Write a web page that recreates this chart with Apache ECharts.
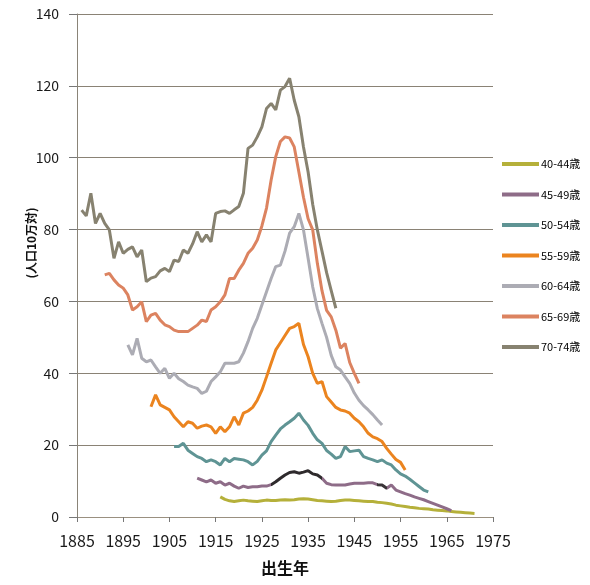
<!DOCTYPE html>
<html>
<head>
<meta charset="utf-8">
<script src="https://cdn.jsdelivr.net/npm/echarts@6/dist/echarts.min.js"></script>
<style>
  html, body { margin: 0; padding: 0; background: #fff; }
  #chart { width: 590px; height: 585px; }
</style>
</head>
<body>
<div id="chart"></div>
<script>
// 出生年ごとの人口10万対の値（各年齢階級）
const firstYear = 1885, lastYear = 1975
const seriesNames = ['40-44歳', '45-49歳', '50-54歳', '55-59歳', '60-64歳', '65-69歳', '70-74歳']
const startYears = [1916, 1911, 1906, 1901, 1896, 1891, 1886]

const age40 = [5.6, 4.9, 4.5, 4.3, 4.5, 4.7, 4.5, 4.4, 4.3, 4.5, 4.7, 4.6, 4.6, 4.7, 4.8, 4.7, 4.8, 5.0, 5.1, 5.0,
  4.8, 4.6, 4.5, 4.4, 4.3, 4.4, 4.6, 4.7, 4.7, 4.6, 4.5, 4.4, 4.3, 4.3, 4.1, 4.0, 3.8, 3.6, 3.3, 3.1,
  2.9, 2.7, 2.6, 2.4, 2.3, 2.2, 2.0, 1.9, 1.8, 1.7, 1.5, 1.4, 1.3, 1.2, 1.1, 1.0]
const age45 = [10.8, 10.3, 9.8, 10.3, 9.4, 9.8, 8.9, 9.4, 8.6, 8.0, 8.6, 8.2, 8.4, 8.4, 8.6, 8.6, 9.0, 9.8, 10.8, 11.7,
  12.4, 12.6, 12.2, 12.5, 12.9, 12.0, 11.7, 10.8, 9.4, 9.0, 8.9, 8.9, 8.9, 9.2, 9.4, 9.4, 9.4, 9.5, 9.5, 9.0,
  8.9, 8.0, 8.9, 7.5, 7.0, 6.5, 6.1, 5.6, 5.2, 4.8, 4.3, 3.8, 3.3, 2.8, 2.3, 1.8]
const age50 = [19.6, 19.6, 20.5, 18.6, 17.7, 16.8, 16.3, 15.4, 15.9, 15.4, 14.5, 16.3, 15.4, 16.3, 16.1, 15.9, 15.4, 14.5, 15.5, 17.2,
  18.4, 21.0, 22.8, 24.5, 25.6, 26.5, 27.5, 28.9, 27.0, 25.5, 23.3, 21.5, 20.5, 18.5, 17.5, 16.3, 16.8, 19.6, 18.2, 18.4,
  18.6, 16.8, 16.3, 15.9, 15.4, 15.9, 15.0, 14.5, 13.1, 12.0, 11.4, 10.5, 9.5, 8.5, 7.5, 7.0]
const age55 = [30.7, 34.0, 31.2, 30.5, 29.8, 27.9, 26.5, 25.1, 26.5, 26.1, 24.7, 25.3, 25.6, 25.1, 23.3, 25.1, 23.7, 25.1, 27.9, 25.6,
  28.9, 29.5, 30.5, 32.5, 35.3, 39.0, 42.8, 46.5, 48.5, 50.5, 52.5, 53.0, 53.9, 48.0, 44.6, 40.0, 37.2, 37.7, 33.5, 32.0,
  30.5, 29.8, 29.5, 28.9, 27.5, 26.5, 25.1, 23.3, 22.3, 21.8, 21.0, 19.1, 17.5, 16.0, 15.2, 13.1]
const age60 = [47.9, 45.1, 49.7, 44.2, 43.2, 43.7, 41.8, 40.0, 41.4, 38.6, 40.0, 38.5, 37.7, 36.7, 36.2, 35.8, 34.4, 35.0, 37.7, 39.0,
  40.4, 42.8, 42.8, 42.8, 43.2, 45.6, 48.8, 52.5, 55.3, 59.0, 62.7, 66.4, 69.7, 70.1, 74.0, 79.0, 80.8, 84.5, 79.9, 72.0,
  64.0, 58.0, 53.9, 50.0, 45.0, 41.8, 40.9, 39.0, 37.2, 34.5, 32.5, 31.0, 29.8, 28.5, 27.0, 25.6]
const age65 = [67.4, 67.8, 66.0, 64.6, 63.7, 61.8, 57.6, 58.5, 59.9, 54.4, 56.2, 56.7, 54.8, 53.5, 53.0, 52.0, 51.6, 51.6, 51.6, 52.5,
  53.4, 54.8, 54.4, 57.6, 58.5, 59.9, 61.8, 66.4, 66.4, 68.7, 70.6, 73.4, 74.8, 77.1, 81.0, 86.0, 93.8, 100.3, 104.5, 105.8,
  105.5, 103.0, 96.0, 89.0, 83.0, 79.9, 70.6, 63.0, 57.5, 55.7, 52.0, 47.0, 48.3, 43.0, 40.0, 37.2]
const age70 = [85.4, 83.8, 90.1, 81.7, 84.5, 81.7, 79.9, 72.0, 76.6, 73.4, 74.5, 75.2, 72.4, 74.3, 65.5, 66.5, 66.9, 68.5, 69.2, 68.3,
  71.5, 71.1, 74.3, 73.4, 76.0, 79.4, 76.6, 78.5, 76.6, 84.5, 85.0, 85.2, 84.5, 85.5, 86.4, 90.1, 102.6, 103.5, 105.8, 108.6,
  113.7, 115.1, 113.3, 118.8, 119.8, 122.1, 116.0, 111.4, 103.0, 96.0, 87.0, 79.9, 74.0, 68.0, 63.0, 58.1]
const allValues = [age40, age45, age50, age55, age60, age65, age70]

const colors = ['#b5b03a', '#8e6c88', '#5f9494', '#eb841f', '#acacb4', '#dc8360', '#878270']

const years = []
for (let y = firstYear; y <= lastYear; y++) years.push(String(y))

const chart = echarts.init(document.getElementById('chart'))

const series = seriesNames.map((name, i) => ({
  name,
  type: 'line',
  symbol: 'none',
  color: colors[i],
  lineStyle: { width: 3 },
  data: allValues[i].map((v, k) => [String(startYears[i] + k), v])
}))

const option = {
  textStyle: { fontFamily: 'Noto Sans CJK JP' },
  animation: false,
  grid: { left: 77, right: 97, top: 14, bottom: 68 },
  legend: {
    orient: 'vertical',
    left: 497,
    top: 152,
    icon: 'rect',
    itemWidth: 37,
    itemHeight: 4,
    itemGap: 16.5,
    textStyle: { fontSize: 11, color: '#000', lineHeight: 14, padding: [0, 0, 0, -3] },
    data: seriesNames.map((n, i) => ({ name: n, itemStyle: { color: colors[i] } }))
  },
  visualMap: {
    show: false,
    type: 'piecewise',
    seriesIndex: 1,
    dimension: 0,
    pieces: [
      { lt: 42, color: colors[1] },
      { gte: 42, lt: 53, color: '#2e2a2c' },
      { gte: 53, lt: 65, color: colors[1] },
      { gte: 65, lt: 67, color: '#3a3438' },
      { gte: 67, color: colors[1] }
    ]
  },
  xAxis: {
    type: 'category',
    data: years,
    boundaryGap: false,
    name: '出生年',
    nameLocation: 'middle',
    nameGap: 43,
    nameTextStyle: { fontSize: 16, fontWeight: 'bold', color: '#111' },
    axisLine: { lineStyle: { color: '#9a9080' } },
    axisTick: { interval: 9, length: 5, lineStyle: { color: '#777' } },
    axisLabel: { interval: 9, fontSize: 16, color: '#1a1a1a', margin: 16 },
    splitLine: { show: false }
  },
  yAxis: {
    type: 'value',
    min: 0,
    max: 140,
    interval: 20,
    axisLine: { show: true, lineStyle: { color: '#8a8478' } },
    axisTick: { show: true, length: 8, lineStyle: { color: '#777' } },
    axisLabel: { fontSize: 14, color: '#1a1a1a', margin: 18 },
    splitLine: { lineStyle: { color: '#8a8275', width: 1 } }
  },
  graphic: [{
    type: 'text',
    x: 31,
    y: 243,
    rotation: Math.PI / 2,
    style: {
      text: '(人口10万対)',
      font: 'bold 12px "Noto Sans CJK JP"',
      fill: '#111',
      align: 'center',
      verticalAlign: 'middle'
    }
  }],
  series
}

chart.setOption(option)
</script>
</body>
</html>
